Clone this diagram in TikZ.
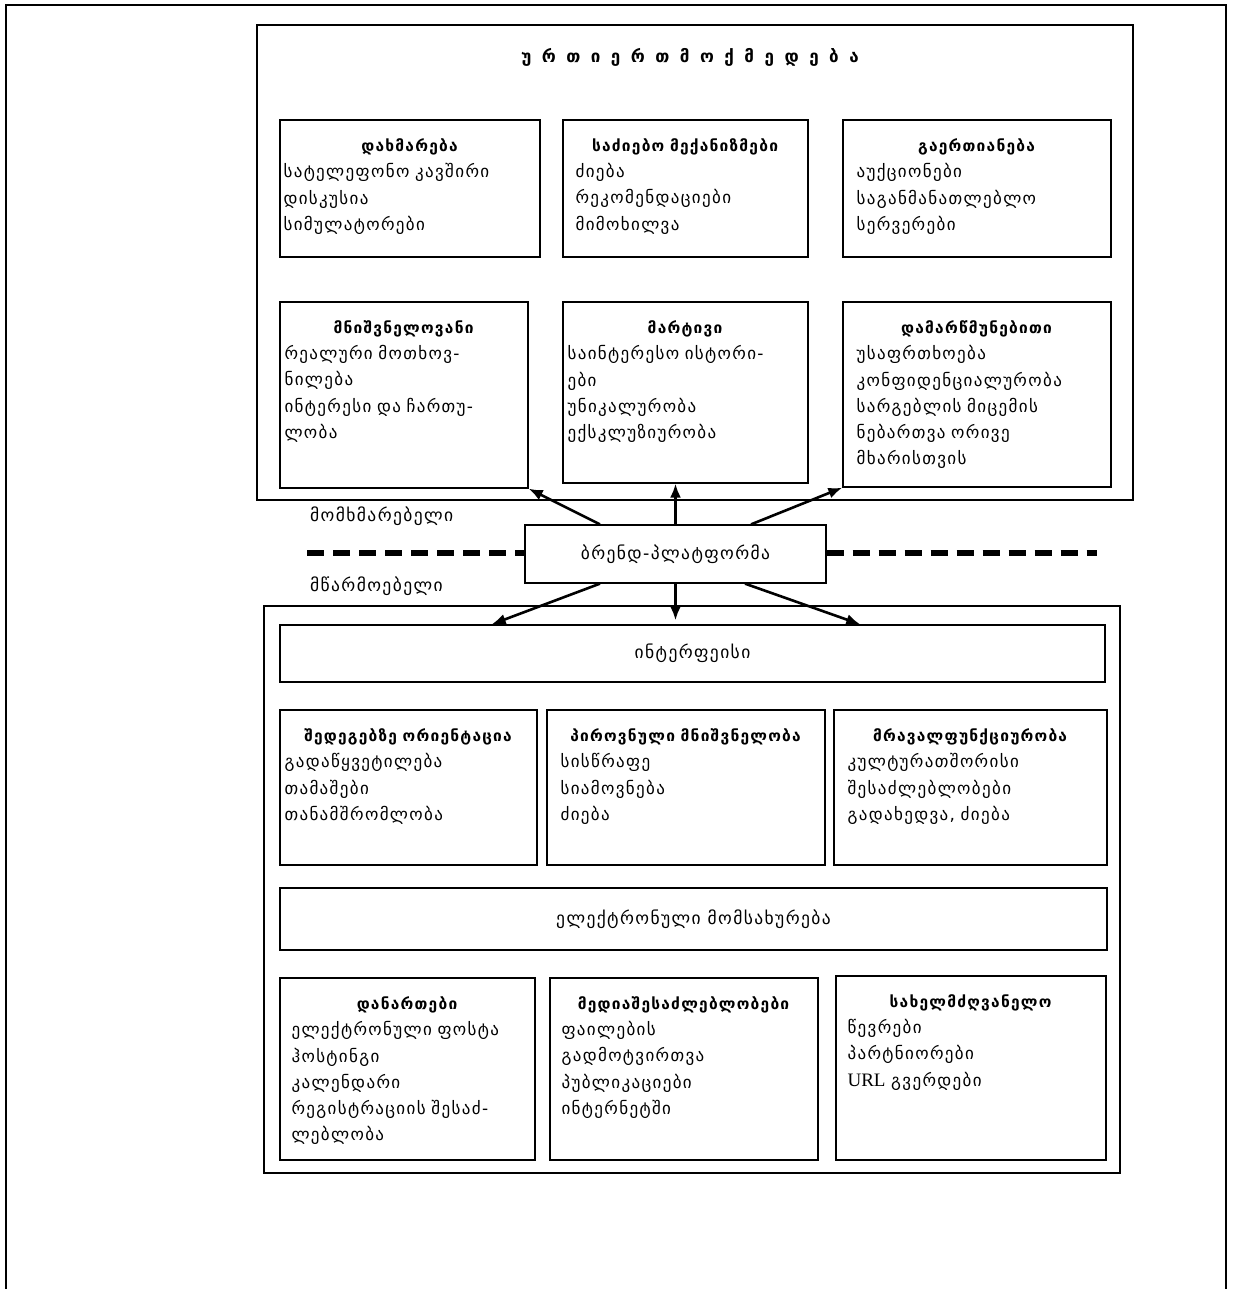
\documentclass[tikz,border=0pt]{standalone}
\usepackage{fontspec}
\setmainfont{DejaVu Sans}[LetterSpace=8]
\newfontfamily\latinserif{Liberation Serif}
\usetikzlibrary{fit,calc,arrows.meta}

\tikzset{
  panel/.style={draw, line width=1.3pt, inner sep=0pt},
  body/.style={inner sep=0pt, align=left, font=\fontsize{17}{26.3}\selectfont},
  label/.style={inner sep=0pt, font=\fontsize{17.5}{20}\selectfont},
  link/.style={line width=2.6pt, -{Latex[length=14pt,width=11pt]}},
  divider/.style={line width=5.5pt, dash pattern=on 17pt off 9pt},
}

% a box with a centred bold heading and left-aligned lines below it
\newcommand\infopanel[7]{% name, x1, y1, x2, y2, left pad, content
  \node[panel, fit={(#2,#3) (#4,#5)}] (#1) {};
  \pgfmathsetmacro\tw{#4-#2-2*#6}
  \node[body, text width=\tw pt, anchor=north west] (#1-text)
    at ([xshift=#6pt, yshift=-19pt]#1.north west) {#7};
}
\newcommand\heading[1]{{\centering\fontsize{15.5}{25}\selectfont\bfseries #1\par}}
\newcommand\titlegap{\hspace{10.5pt}}

\begin{document}
\begin{tikzpicture}[x=1pt, y=-1pt]
\useasboundingbox (0,0) rectangle (1232,1289);

% page frame, open at the bottom
\draw[line width=1.3pt] (6,1289) -- (6,5) -- (1226,5) -- (1226,1289);

% ---------- interaction block ----------
\node[panel, fit={(257,25) (1133,500)}] (interaction) {};
\node[label, font=\fontsize{17}{18}\selectfont\bfseries] (title) at (690,57)
  {უ\titlegap რ\titlegap თ\titlegap ი\titlegap ე\titlegap რ\titlegap თ\titlegap მ\titlegap ო\titlegap ქ\titlegap მ\titlegap ე\titlegap დ\titlegap ე\titlegap ბ\titlegap ა};

\infopanel{help}{280}{120}{540}{257}{4}{\heading{დახმარება}
  სატელეფონო კავშირი\\დისკუსია\\სიმულატორები}
\infopanel{search}{563}{120}{808}{257}{13}{\heading{საძიებო მექანიზმები}
  ძიება\\რეკომენდაციები\\მიმოხილვა}
\infopanel{community}{843}{120}{1111}{257}{14}{\heading{გაერთიანება}
  აუქციონები\\საგანმანათლებლო\\სერვერები}
\infopanel{relevance}{280}{302}{528}{488}{5}{\heading{მნიშვნელოვანი}
  რეალური მოთხოვ-\\ნილება\\ინტერესი და ჩართუ-\\ლობა}
\infopanel{content}{563}{302}{808}{483}{5}{\heading{მარტივი}
  საინტერესო ისტორი-\\ები\\უნიკალურობა\\ექსკლუზიურობა}
\infopanel{trust}{843}{302}{1111}{487}{14}{\heading{დამარწმუნებითი}
  უსაფრთხოება\\კონფიდენციალურობა\\სარგებლის მიცემის\\ნებართვა ორივე\\მხარისთვის}

% ---------- platform and divider ----------
\node[panel, fit={(525,525) (826,583)}] (platform) {};
\node[label] at (platform.center) {ბრენდ-პლატფორმა};
\coordinate (dashL) at (307,553);
\coordinate (dashR) at (1097,553);
\draw[divider] (dashL) -- (platform.west |- dashL);
\draw[divider] (platform.east |- dashR) -- (dashR);
\node[label, anchor=west] (consumer) at (310,516) {მომხმარებელი};
\node[label, anchor=west] (producer) at (310,586) {მწარმოებელი};

\draw[link] ($(platform.north west)!0.25!(platform.north east)$) -- (relevance.south east);
\draw[link] (platform.north) -- (platform.north |- content.south);
\draw[link] ($(platform.north west)!0.75!(platform.north east)$) -- (trust.south west);

% ---------- producer block ----------
\node[panel, fit={(264,606) (1120,1173)}] (producerbox) {};
\node[panel, fit={(280,625) (1105,682)}] (interface) {};
\node[label] at (interface.center) {ინტერფეისი};

\draw[link] ($(platform.south west)!0.25!(platform.south east)$) -- ($(interface.north west)!0.257!(interface.north east)$);
\draw[link] (platform.south) -- ([yshift=4pt]platform.south |- interface.north);
\draw[link] ($(platform.south west)!0.73!(platform.south east)$) -- ($(interface.north west)!0.703!(interface.north east)$);

\infopanel{results}{280}{710}{537}{865}{5}{\heading{შედეგებზე ორიენტაცია}
  გადაწყვეტილება\\თამაშები\\თანამშრომლობა}
\infopanel{personal}{547}{710}{825}{865}{14}{\heading{პიროვნული მნიშვნელობა}
  სისწრაფე\\სიამოვნება\\ძიება}
\infopanel{multi}{834}{710}{1107}{865}{14}{\heading{მრავალფუნქციურობა}
  კულტურათშორისი\\შესაძლებლობები\\გადახედვა, ძიება}

\node[panel, fit={(280,888) (1107,950)}] (eservice) {};
\node[label] at (eservice.center) {ელექტრონული მომსახურება};

\infopanel{attach}{280}{978}{535}{1160}{12}{\heading{დანართები}
  ელექტრონული ფოსტა\\ჰოსტინგი\\კალენდარი\\რეგისტრაციის შესაძ-\\ლებლობა}
\infopanel{media}{550}{978}{818}{1160}{12}{\heading{მედიაშესაძლებლობები}
  ფაილების\\გადმოტვირთვა\\პუბლიკაციები\\ინტერნეტში}
\infopanel{directory}{836}{976}{1106}{1160}{12}{\heading{სახელმძღვანელო}
  წევრები\\პარტნიორები\\{\latinserif\fontsize{19}{26}\selectfont URL} გვერდები}
\end{tikzpicture}
\end{document}
